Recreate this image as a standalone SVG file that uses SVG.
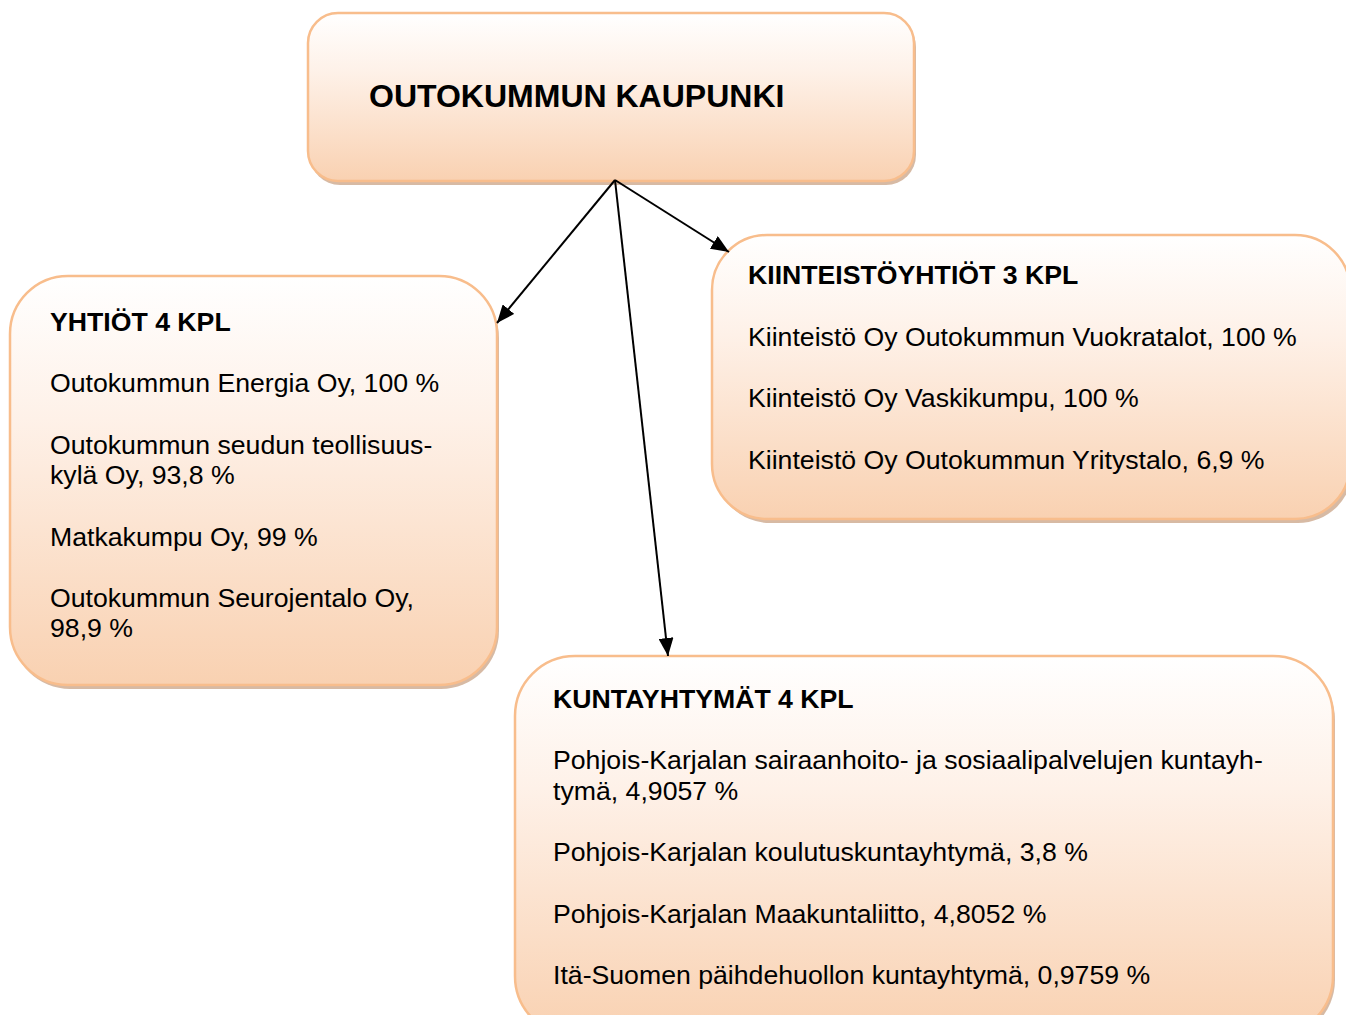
<svg xmlns="http://www.w3.org/2000/svg" width="1346" height="1015" viewBox="0 0 1346 1015">
<style>
.box{stroke:#f8bd8c;stroke-width:2.5;fill:url(#g)}
.sh{fill:#c9a385;opacity:0.75}
.t{font-family:"Liberation Sans",Arial,sans-serif;font-size:26.67px;fill:#000}
.b{font-weight:bold}
.big{font-size:32px}
.c{stroke:#000;stroke-width:2;fill:none;marker-end:url(#ah)}
</style>
<defs>
<linearGradient id="g" x1="0" y1="0" x2="0" y2="1">
<stop offset="0" stop-color="#ffffff"/>
<stop offset="0.35" stop-color="#fef1e8"/>
<stop offset="1" stop-color="#f9d1b1"/>
</linearGradient>
<marker id="ah" markerUnits="userSpaceOnUse" markerWidth="19" markerHeight="15" refX="18" refY="7.5" orient="auto">
<path d="M0,0 L18,7.5 L0,15 z" fill="#000"/>
</marker>
</defs>
<rect width="1346" height="1015" fill="#fff"/>
<g id="node-kaupunki">
<rect class="sh" x="310" y="17" width="606" height="168" rx="30"/>
<rect class="box" x="308" y="13" width="606" height="168" rx="30"/>
<text class="t b big" x="369" y="107">OUTOKUMMUN KAUPUNKI</text>
</g>
<g id="node-yhtiot">
<rect class="sh" x="12" y="280" width="487" height="409" rx="58"/>
<rect class="box" x="10" y="276" width="487" height="409" rx="58"/>
<text class="t b" x="50" y="331">YHTIÖT 4 KPL</text>
<text class="t" x="50" y="392">Outokummun Energia Oy, 100 %</text>
<text class="t" x="50" y="454">Outokummun seudun teollisuus-</text>
<text class="t" x="50" y="484">kylä Oy, 93,8 %</text>
<text class="t" x="50" y="546">Matkakumpu Oy, 99 %</text>
<text class="t" x="50" y="607">Outokummun Seurojentalo Oy,</text>
<text class="t" x="50" y="637">98,9 %</text>
</g>
<g id="node-kiinteistoyhtiot">
<rect class="sh" x="715" y="239" width="638" height="284" rx="55"/>
<rect class="box" x="712" y="235" width="638" height="284" rx="55"/>
<text class="t b" x="748" y="284">KIINTEISTÖYHTIÖT 3 KPL</text>
<text class="t" x="748" y="346">Kiinteistö Oy Outokummun Vuokratalot, 100 %</text>
<text class="t" x="748" y="407">Kiinteistö Oy Vaskikumpu, 100 %</text>
<text class="t" x="748" y="469">Kiinteistö Oy Outokummun Yritystalo, 6,9 %</text>
</g>
<g id="node-kuntayhtymat">
<rect class="sh" x="517" y="660" width="818" height="380" rx="60"/>
<rect class="box" x="515" y="656" width="818" height="380" rx="60"/>
<text class="t b" x="553" y="708">KUNTAYHTYMÄT 4 KPL</text>
<text class="t" x="553" y="769">Pohjois-Karjalan sairaanhoito- ja sosiaalipalvelujen kuntayh-</text>
<text class="t" x="553" y="800">tymä, 4,9057 %</text>
<text class="t" x="553" y="861">Pohjois-Karjalan koulutuskuntayhtymä, 3,8 %</text>
<text class="t" x="553" y="923">Pohjois-Karjalan Maakuntaliitto, 4,8052 %</text>
<text class="t" x="553" y="984">Itä-Suomen päihdehuollon kuntayhtymä, 0,9759 %</text>
</g>
<g id="connectors">
<line class="c" x1="615" y1="180" x2="497" y2="323"/>
<line class="c" x1="615" y1="180" x2="729" y2="252"/>
<line class="c" x1="615" y1="180" x2="668" y2="656"/>
</g>
</svg>
